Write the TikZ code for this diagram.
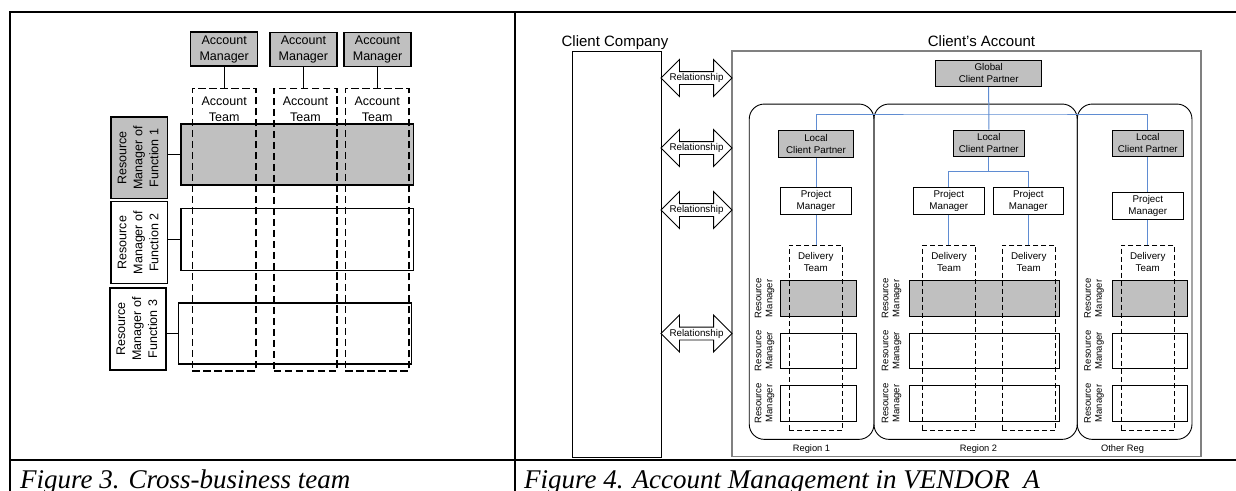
\documentclass[tikz,border=0pt]{standalone}
\usepackage{fontspec}
\setmainfont{Liberation Sans}
\newfontfamily\capfont{Liberation Serif}
\usetikzlibrary{shapes.arrows}
\definecolor{boxgray}{RGB}{192,192,192}
\definecolor{linkblue}{RGB}{95,140,210}
\definecolor{edgegray}{RGB}{128,128,128}

\begin{document}
\begin{tikzpicture}[x=1pt,y=-1pt,
  frame/.style={line width=2pt},
  % left figure
  lbox/.style={draw, line width=1.3pt, inner sep=0pt, align=center,
    font=\fontsize{12.5}{16}\selectfont},
  lteam/.style={draw, line width=1.3pt, dash pattern=on 7.5pt off 3.5pt, inner sep=0pt},
  ltext/.style={inner sep=0pt, align=center, font=\fontsize{12.5}{16}\selectfont},
  lwire/.style={line width=1.3pt},
  % right figure
  sbox/.style={draw, line width=0.9pt, inner sep=0pt, align=center,
    font=\fontsize{9.8}{12}\selectfont},
  steam/.style={draw, line width=0.9pt, dash pattern=on 5pt off 3pt, inner sep=0pt},
  stext/.style={inner sep=0pt, align=center, font=\fontsize{9.8}{12}\selectfont},
  rmtext/.style={inner sep=0pt, align=center, rotate=90, font=\fontsize{9.5}{11}\selectfont},
  region/.style={draw, line width=0.9pt, rounded corners=15pt, inner sep=0pt},
  rel/.style={double arrow, draw, line width=0.9pt, double arrow head extend=12pt,
    minimum height=71pt, inner xsep=0pt, inner ysep=1.2pt, text height=7.4pt, text depth=2.2pt,
    font=\fontsize{9.8}{12}\selectfont},
  blink/.style={draw=linkblue, line width=1pt},
  captext/.style={anchor=base west, inner sep=0pt, font=\capfont\itshape\fontsize{27}{32}\selectfont}
]
\useasboundingbox (0,0) rectangle (1236,490);
\fill[white] (0,0) rectangle (1236,490);

% ---------------- table frame ----------------
\draw[frame] (10,492) -- (10,12) -- (1238,12);
\draw[frame] (10,460) -- (1238,460);
\draw[frame] (515,12) -- (515,492);

% ---------------- Figure 3 ----------------
% function rows
\node[lbox, fill=boxgray, minimum width=232.5pt, minimum height=61pt] (row1) at (297.2,154.5) {};
\node[lbox, minimum width=232.5pt, minimum height=61.6pt] (row2) at (297.2,239.5) {};
\node[lbox, minimum width=233pt, minimum height=61pt] (row3) at (295,333.5) {};

% account teams
\node[lteam, minimum width=63.5pt, minimum height=282.5pt] (team1) at (224.2,229.7) {};
\node[lteam, minimum width=63pt, minimum height=282.5pt] (team2) at (305.4,229.7) {};
\node[lteam, minimum width=63.5pt, minimum height=282.5pt] (team3) at (377.2,229.7) {};
\node[ltext] (tt1) at (224.2,109.5) {Account\\Team};
\node[ltext] (tt2) at (305.4,109.5) {Account\\Team};
\node[ltext] (tt3) at (377.2,109.5) {Account\\Team};

% account managers
\node[lbox, fill=boxgray, minimum width=67pt, minimum height=34pt] (am1) at (224.2,49) {Account\\Manager};
\node[lbox, fill=boxgray, minimum width=67pt, minimum height=34pt] (am2) at (303.4,49.5) {Account\\Manager};
\node[lbox, fill=boxgray, minimum width=67pt, minimum height=34pt] (am3) at (377.5,49.5) {Account\\Manager};
\draw[lwire] (am1.south) -- (am1.south |- team1.north);
\draw[lwire] (am2.south) -- (am2.south |- team2.north);
\draw[lwire] (am3.south) -- (am3.south |- team3.north);

% resource managers of functions
\node[lbox, fill=boxgray, minimum width=56.4pt, minimum height=81.7pt] (fn1) at (139.2,157.9)
  {\rotatebox{90}{\begin{tabular}{@{}c@{}}Resource\\Manager of\\Function 1\end{tabular}}};
\node[lbox, minimum width=56.4pt, minimum height=81.6pt] (fn2) at (139.2,242.6)
  {\rotatebox{90}{\begin{tabular}{@{}c@{}}Resource\\Manager of\\Function 2\end{tabular}}};
\node[lbox, minimum width=56pt, minimum height=82pt] (fn3) at (138,329)
  {\rotatebox{90}{\begin{tabular}{@{}c@{}}Resource\\Manager of\\Function 3\end{tabular}}};
\draw[lwire] (fn1.east |- row1.west) -- (row1.west);
\draw[lwire] (fn2.east |- row2.west) -- (row2.west);
\draw[lwire] (fn3.east |- row3.west) -- (row3.west);

\node[captext] (cap3) at (20,488) {Figure 3. Cross-business team};

% ---------------- Figure 4 ----------------
\node[anchor=base, inner sep=0pt, font=\fontsize{15}{18}\selectfont] (cctitle) at (615,46.7) {Client Company};
\node[anchor=base, inner sep=0pt, font=\fontsize{15}{18}\selectfont] (catitle) at (981.5,46.2) {Client’s Account};

\node[draw, line width=0.9pt, inner sep=0pt, minimum width=88.7pt, minimum height=406pt] (client) at (616.6,254) {};
\node[draw=edgegray, line width=1.5pt, inner sep=0pt, minimum width=469.3pt, minimum height=405.5pt] (acct) at (966.4,253.8) {};

% relationships between the two companies
\node[rel] (rel1) at (696.5,78) {Relationship};
\node[rel] (rel2) at (696.5,148) {Relationship};
\node[rel] (rel3) at (696.5,210) {Relationship};
\node[rel] (rel4) at (696.5,333.5) {Relationship};

% regions
\node[region, minimum width=124.7pt, minimum height=335.3pt] (reg1) at (811.6,271.7) {};
\node[region, minimum width=203.3pt, minimum height=335.3pt] (reg2) at (975.6,271.7) {};
\node[region, minimum width=114.7pt, minimum height=335.3pt] (reg3) at (1134.6,271.7) {};
\node[stext, font=\fontsize{9.3}{11}\selectfont] (rl1) at (811.5,449) {Region 1};
\node[stext, font=\fontsize{9.3}{11}\selectfont] (rl2) at (978.5,449) {Region 2};
\node[stext, font=\fontsize{9.3}{11}\selectfont] (rl3) at (1122.5,449) {Other Reg};

% resource manager rows
\foreach \r/\y/\f in {a/298.35/boxgray, b/350.8/white, c/403.5/white}{
  \node[sbox, fill=\f, minimum width=75.3pt, minimum height=35.2pt] (rm1\r) at (818.4,\y) {};
  \node[sbox, fill=\f, minimum width=150pt, minimum height=35.2pt] (rm2\r) at (984.3,\y) {};
  \node[sbox, fill=\f, minimum width=75.4pt, minimum height=35.2pt] (rm3\r) at (1150,\y) {};
  \node[rmtext] (rt1\r) at (764.7,\y) {Resource\\Manager};
  \node[rmtext] (rt2\r) at (891.5,\y) {Resource\\Manager};
  \node[rmtext] (rt3\r) at (1094.2,\y) {Resource\\Manager};
}

% delivery teams
\node[steam, minimum width=53pt, minimum height=185.7pt] (dt1) at (815.8,337.85) {};
\node[steam, minimum width=53.4pt, minimum height=185.7pt] (dt2a) at (949,337.85) {};
\node[steam, minimum width=53.3pt, minimum height=185.7pt] (dt2b) at (1028.7,337.85) {};
\node[steam, minimum width=53.3pt, minimum height=185.7pt] (dt3) at (1147.7,337.85) {};
\node[stext] (dtt1) at (815.8,261.7) {Delivery\\Team};
\node[stext] (dtt2a) at (949,261.7) {Delivery\\Team};
\node[stext] (dtt2b) at (1028.7,261.7) {Delivery\\Team};
\node[stext] (dtt3) at (1147.7,261.7) {Delivery\\Team};

% partners and project managers
\node[sbox, fill=boxgray, minimum width=106pt, minimum height=26.7pt] (gcp) at (988.7,73.3) {Global\\Client Partner};
\node[sbox, fill=boxgray, minimum width=75.4pt, minimum height=26.7pt] (lcp1) at (816,144) {Local\\Client Partner};
\node[sbox, fill=boxgray, minimum width=71pt, minimum height=26.7pt] (lcp2) at (988.8,143.3) {Local\\Client Partner};
\node[sbox, fill=boxgray, minimum width=71pt, minimum height=26.7pt] (lcp3) at (1147.8,143.3) {Local\\Client Partner};
\node[sbox, fill=white, minimum width=71.4pt, minimum height=26.7pt] (pm1) at (816,200.7) {Project\\Manager};
\node[sbox, fill=white, minimum width=71pt, minimum height=26.7pt] (pm2a) at (948.8,200.7) {Project\\Manager};
\node[sbox, fill=white, minimum width=70.7pt, minimum height=26.7pt] (pm2b) at (1028.3,200.7) {Project\\Manager};
\node[sbox, fill=white, minimum width=71pt, minimum height=26.7pt] (pm3) at (1147.8,205.7) {Project\\Manager};

% reporting lines
\coordinate (bus) at (988.7,114);
\coordinate (fork) at (988.8,171.7);
\draw[blink] (gcp.south) -- (lcp2.north);
\draw[blink] (lcp1.north) |- (bus) -| (lcp3.north);
\draw[blink] (lcp1.south) -- (pm1.north);
\draw[blink] (pm1.south) -- (pm1.south |- dt1.north);
\draw[blink] (lcp2.south) -- (fork);
\draw[blink] (pm2a.north) |- (fork) -| (pm2b.north);
\draw[blink] (pm2a.south) -- (pm2a.south |- dt2a.north);
\draw[blink] (pm2b.south) -- (pm2b.south |- dt2b.north);
\draw[blink] (lcp3.south) -- (pm3.north);
\draw[blink] (pm3.south) -- (pm3.south |- dt3.north);

\node[captext] (cap4) at (524,488) {Figure 4. Account Management in VENDOR\ \ A};
\end{tikzpicture}
\end{document}
